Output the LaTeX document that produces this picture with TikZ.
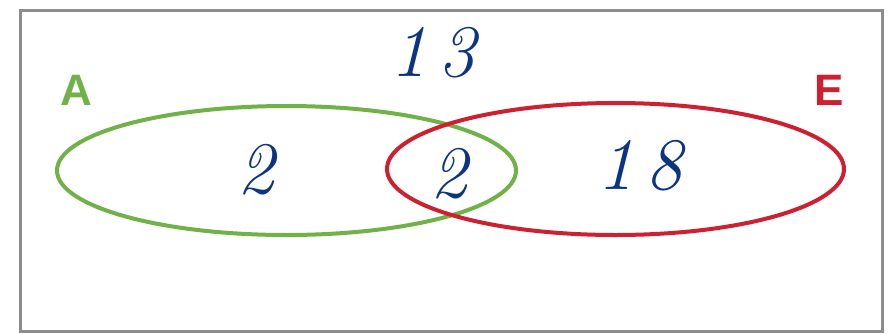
\documentclass[tikz,border=0pt]{standalone}
\usepackage{fontspec}
\usetikzlibrary{shapes.geometric}
\newfontfamily\labelfont{Liberation Sans}
\definecolor{setgreen}{RGB}{112,178,72}
\definecolor{setred}{RGB}{205,32,48}
\definecolor{penblue}{RGB}{12,52,128}
\definecolor{framegray}{RGB}{140,140,140}
\begin{document}
\begin{tikzpicture}[x=1pt,y=-1pt,
  setlabel/.style={font=\labelfont\bfseries\fontsize{44}{44}\selectfont, inner sep=0pt},
  handnum/.style={font=\itshape\fontsize{74}{74}\selectfont, text=penblue, inner sep=0pt},
  setline/.style={line width=4pt}]
\useasboundingbox (0,0) rectangle (892,333);
\fill[white] (0,0) rectangle (892,333);
\draw[framegray, line width=3pt] (20,10) rectangle (882,331);
\node[draw=setgreen, setline, ellipse, minimum width=459pt, minimum height=129pt, inner sep=0pt] (A) at (286.5,170.5) {};
\node[draw=setred, setline, ellipse, minimum width=457pt, minimum height=132pt, inner sep=0pt] (E) at (615.5,169) {};
\node[setlabel, text=setgreen] (la) at (76,90) {A};
\node[setlabel, text=setred] (le) at (829,90) {E};
\node[handnum] (n13) at (433,53) {1\hspace{12pt}3};
\node[handnum] (n2a) at (256,170) {2};
\node[handnum] (n2b) at (449,174) {2};
\node[handnum] (n18) at (640,166) {1\hspace{12pt}8};
\end{tikzpicture}
\end{document}
